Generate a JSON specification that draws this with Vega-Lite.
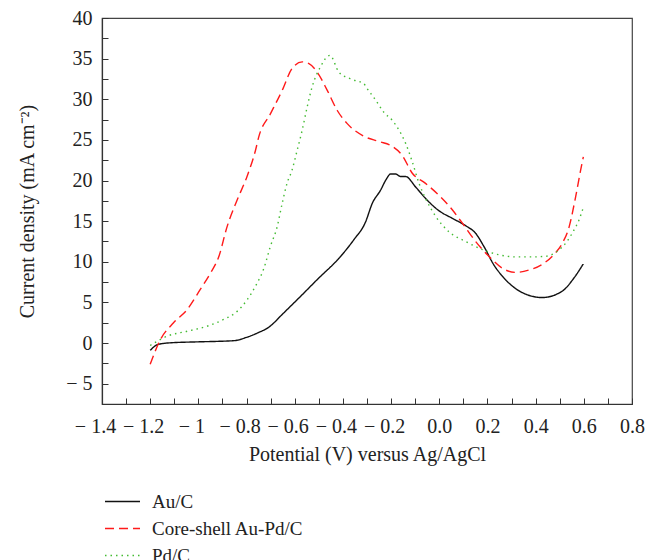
{
  "$schema": "https://vega.github.io/schema/vega-lite/v6.json",
  "width": 530,
  "height": 386,
  "autosize": "none",
  "padding": {"left": 102, "top": 18, "right": 13, "bottom": 156},
  "background": "white",
  "config": {
    "view": {"stroke": "#444", "strokeWidth": 1.2},
    "axis": {
      "domainColor": "#333", "domainWidth": 1.2, "tickColor": "#333", "tickWidth": 1,
      "labelFont": "Liberation Serif", "labelFontSize": 20, "labelColor": "#222",
      "titleFont": "Liberation Serif", "titleFontSize": 20, "titleFontWeight": "normal", "titleColor": "#222",
      "grid": false
    },
    "legend": {"labelFont": "Liberation Serif", "labelFontSize": 19, "labelColor": "#222"}
  },
  "data": {"values": [
    {"s":"Au/C","x":-1.2,"y":-0.9},{"s":"Au/C","x":-1.17,"y":-0.2},{"s":"Au/C","x":-1.13,"y":0.0},{"s":"Au/C","x":-1.0,"y":0.15},{"s":"Au/C","x":-0.93,"y":0.2},{"s":"Au/C","x":-0.85,"y":0.3},{"s":"Au/C","x":-0.8,"y":0.7},{"s":"Au/C","x":-0.75,"y":1.3},{"s":"Au/C","x":-0.71,"y":1.9},{"s":"Au/C","x":-0.646,"y":3.7},{"s":"Au/C","x":-0.576,"y":5.74},{"s":"Au/C","x":-0.507,"y":7.8},{"s":"Au/C","x":-0.41,"y":10.65},{"s":"Au/C","x":-0.355,"y":12.7},{"s":"Au/C","x":-0.306,"y":14.9},{"s":"Au/C","x":-0.278,"y":17.2},{"s":"Au/C","x":-0.244,"y":18.8},{"s":"Au/C","x":-0.221,"y":20.1},{"s":"Au/C","x":-0.202,"y":20.8},{"s":"Au/C","x":-0.181,"y":20.8},{"s":"Au/C","x":-0.161,"y":20.5},{"s":"Au/C","x":-0.14,"y":20.5},{"s":"Au/C","x":-0.098,"y":19.2},{"s":"Au/C","x":-0.057,"y":17.8},{"s":"Au/C","x":-0.002,"y":16.3},{"s":"Au/C","x":0.054,"y":15.35},{"s":"Au/C","x":0.109,"y":14.45},{"s":"Au/C","x":0.151,"y":13.5},{"s":"Au/C","x":0.185,"y":11.9},{"s":"Au/C","x":0.227,"y":9.6},{"s":"Au/C","x":0.275,"y":7.8},{"s":"Au/C","x":0.345,"y":6.2},{"s":"Au/C","x":0.428,"y":5.6},{"s":"Au/C","x":0.511,"y":6.4},{"s":"Au/C","x":0.559,"y":8.0},{"s":"Au/C","x":0.598,"y":9.75},
    {"s":"Core-shell Au-Pd/C","x":-1.2,"y":-2.6},{"s":"Core-shell Au-Pd/C","x":-1.158,"y":0.4},{"s":"Core-shell Au-Pd/C","x":-1.103,"y":2.5},{"s":"Core-shell Au-Pd/C","x":-1.047,"y":4.1},{"s":"Core-shell Au-Pd/C","x":-0.992,"y":6.6},{"s":"Core-shell Au-Pd/C","x":-0.95,"y":8.6},{"s":"Core-shell Au-Pd/C","x":-0.915,"y":10.65},{"s":"Core-shell Au-Pd/C","x":-0.881,"y":14.3},{"s":"Core-shell Au-Pd/C","x":-0.839,"y":17.6},{"s":"Core-shell Au-Pd/C","x":-0.798,"y":20.5},{"s":"Core-shell Au-Pd/C","x":-0.763,"y":23.7},{"s":"Core-shell Au-Pd/C","x":-0.749,"y":25.4},{"s":"Core-shell Au-Pd/C","x":-0.701,"y":28.2},{"s":"Core-shell Au-Pd/C","x":-0.652,"y":31.1},{"s":"Core-shell Au-Pd/C","x":-0.611,"y":33.8},{"s":"Core-shell Au-Pd/C","x":-0.569,"y":34.6},{"s":"Core-shell Au-Pd/C","x":-0.541,"y":34.4},{"s":"Core-shell Au-Pd/C","x":-0.507,"y":33.35},{"s":"Core-shell Au-Pd/C","x":-0.465,"y":31.1},{"s":"Core-shell Au-Pd/C","x":-0.424,"y":28.65},{"s":"Core-shell Au-Pd/C","x":-0.382,"y":27.0},{"s":"Core-shell Au-Pd/C","x":-0.313,"y":25.45},{"s":"Core-shell Au-Pd/C","x":-0.25,"y":24.8},{"s":"Core-shell Au-Pd/C","x":-0.195,"y":24.2},{"s":"Core-shell Au-Pd/C","x":-0.154,"y":23.1},{"s":"Core-shell Au-Pd/C","x":-0.112,"y":20.9},{"s":"Core-shell Au-Pd/C","x":-0.057,"y":19.65},{"s":"Core-shell Au-Pd/C","x":-0.002,"y":18.2},{"s":"Core-shell Au-Pd/C","x":0.054,"y":16.4},{"s":"Core-shell Au-Pd/C","x":0.096,"y":14.75},{"s":"Core-shell Au-Pd/C","x":0.151,"y":12.5},{"s":"Core-shell Au-Pd/C","x":0.207,"y":10.65},{"s":"Core-shell Au-Pd/C","x":0.262,"y":9.2},{"s":"Core-shell Au-Pd/C","x":0.317,"y":8.7},{"s":"Core-shell Au-Pd/C","x":0.373,"y":9.0},{"s":"Core-shell Au-Pd/C","x":0.428,"y":9.7},{"s":"Core-shell Au-Pd/C","x":0.476,"y":10.9},{"s":"Core-shell Au-Pd/C","x":0.511,"y":12.3},{"s":"Core-shell Au-Pd/C","x":0.539,"y":14.3},{"s":"Core-shell Au-Pd/C","x":0.566,"y":18.0},{"s":"Core-shell Au-Pd/C","x":0.587,"y":21.3},{"s":"Core-shell Au-Pd/C","x":0.598,"y":22.9},
    {"s":"Pd/C","x":-1.2,"y":-0.3},{"s":"Pd/C","x":-1.13,"y":0.84},{"s":"Pd/C","x":-1.047,"y":1.45},{"s":"Pd/C","x":-0.964,"y":2.07},{"s":"Pd/C","x":-0.895,"y":2.9},{"s":"Pd/C","x":-0.839,"y":3.9},{"s":"Pd/C","x":-0.798,"y":5.3},{"s":"Pd/C","x":-0.763,"y":7.0},{"s":"Pd/C","x":-0.728,"y":9.2},{"s":"Pd/C","x":-0.701,"y":11.9},{"s":"Pd/C","x":-0.673,"y":14.3},{"s":"Pd/C","x":-0.652,"y":17.2},{"s":"Pd/C","x":-0.632,"y":19.65},{"s":"Pd/C","x":-0.611,"y":21.3},{"s":"Pd/C","x":-0.59,"y":23.7},{"s":"Pd/C","x":-0.569,"y":26.2},{"s":"Pd/C","x":-0.548,"y":29.1},{"s":"Pd/C","x":-0.528,"y":31.5},{"s":"Pd/C","x":-0.493,"y":34.0},{"s":"Pd/C","x":-0.454,"y":35.4},{"s":"Pd/C","x":-0.417,"y":33.35},{"s":"Pd/C","x":-0.368,"y":32.5},{"s":"Pd/C","x":-0.313,"y":31.9},{"s":"Pd/C","x":-0.299,"y":31.3},{"s":"Pd/C","x":-0.264,"y":29.9},{"s":"Pd/C","x":-0.23,"y":28.4},{"s":"Pd/C","x":-0.195,"y":27.4},{"s":"Pd/C","x":-0.167,"y":26.2},{"s":"Pd/C","x":-0.14,"y":24.6},{"s":"Pd/C","x":-0.112,"y":22.3},{"s":"Pd/C","x":-0.084,"y":19.65},{"s":"Pd/C","x":-0.057,"y":17.8},{"s":"Pd/C","x":-0.015,"y":15.6},{"s":"Pd/C","x":0.04,"y":13.7},{"s":"Pd/C","x":0.109,"y":12.5},{"s":"Pd/C","x":0.179,"y":11.5},{"s":"Pd/C","x":0.248,"y":10.86},{"s":"Pd/C","x":0.317,"y":10.6},{"s":"Pd/C","x":0.386,"y":10.6},{"s":"Pd/C","x":0.448,"y":10.7},{"s":"Pd/C","x":0.49,"y":11.3},{"s":"Pd/C","x":0.525,"y":12.3},{"s":"Pd/C","x":0.559,"y":13.9},{"s":"Pd/C","x":0.58,"y":15.15},{"s":"Pd/C","x":0.597,"y":16.6}
  ]},
  "mark": {"type": "line", "interpolate": "monotone", "strokeWidth": 1.4},
  "encoding": {
    "x": {
      "field": "x", "type": "quantitative",
      "scale": {"domain": [-1.4, 0.8], "nice": false, "zero": false},
      "axis": {
        "title": "Potential (V) versus Ag/AgCl",
        "values": [-1.4,-1.3,-1.2,-1.1,-1.0,-0.9,-0.8,-0.7,-0.6,-0.5,-0.4,-0.3,-0.2,-0.1,0,0.1,0.2,0.3,0.4,0.5,0.6,0.7,0.8],
        "labelExpr": "round(datum.value*10) % 2 != 0 ? '' : (abs(datum.value + 1) < 0.001 ? '− 1' : (datum.value < -0.001 ? '− ' + format(abs(datum.value), '.1f') : format(abs(datum.value), '.1f')))",
        "labelOffset": {"condition": {"test": "datum.value < -0.001", "value": -7}, "value": 0},
        "tickSize": -6, "labelPadding": 18, "labelFlush": false, "labelOverlap": false, "titlePadding": 8
      }
    },
    "y": {
      "field": "y", "type": "quantitative",
      "scale": {"domain": [-7.5, 40], "nice": false, "zero": false},
      "axis": {
        "title": "Current density (mA cm⁻²)",
        "values": [-5,-2.5,0,2.5,5,7.5,10,12.5,15,17.5,20,22.5,25,27.5,30,32.5,35,37.5,40],
        "labelExpr": "datum.value % 5 != 0 ? '' : (datum.value < 0 ? '− ' + abs(datum.value) : '' + datum.value)",
        "tickSize": -6, "labelPadding": 16, "labelOverlap": false, "titlePadding": 28
      }
    },
    "color": {
      "field": "s", "type": "nominal",
      "scale": {"domain": ["Au/C","Core-shell Au-Pd/C","Pd/C"], "range": ["#111111","#ff1a1a","#44bb33"]},
      "legend": {"title": null, "orient": "none", "legendX": 11, "legendY": 474, "symbolType": "M-3.5,0H3.5", "symbolSize": 100, "symbolStrokeWidth": 1.4, "labelOffset": 20, "rowPadding": 7}
    },
    "strokeDash": {
      "field": "s", "type": "nominal",
      "scale": {"domain": ["Au/C","Core-shell Au-Pd/C","Pd/C"], "range": [[1,0],[9,5],[1.5,4]]},
      "legend": {"title": null, "orient": "none", "legendX": 11, "legendY": 474, "symbolType": "M-3.5,0H3.5", "symbolSize": 100, "symbolStrokeWidth": 1.4, "labelOffset": 20, "rowPadding": 7}
    }
  }
}
